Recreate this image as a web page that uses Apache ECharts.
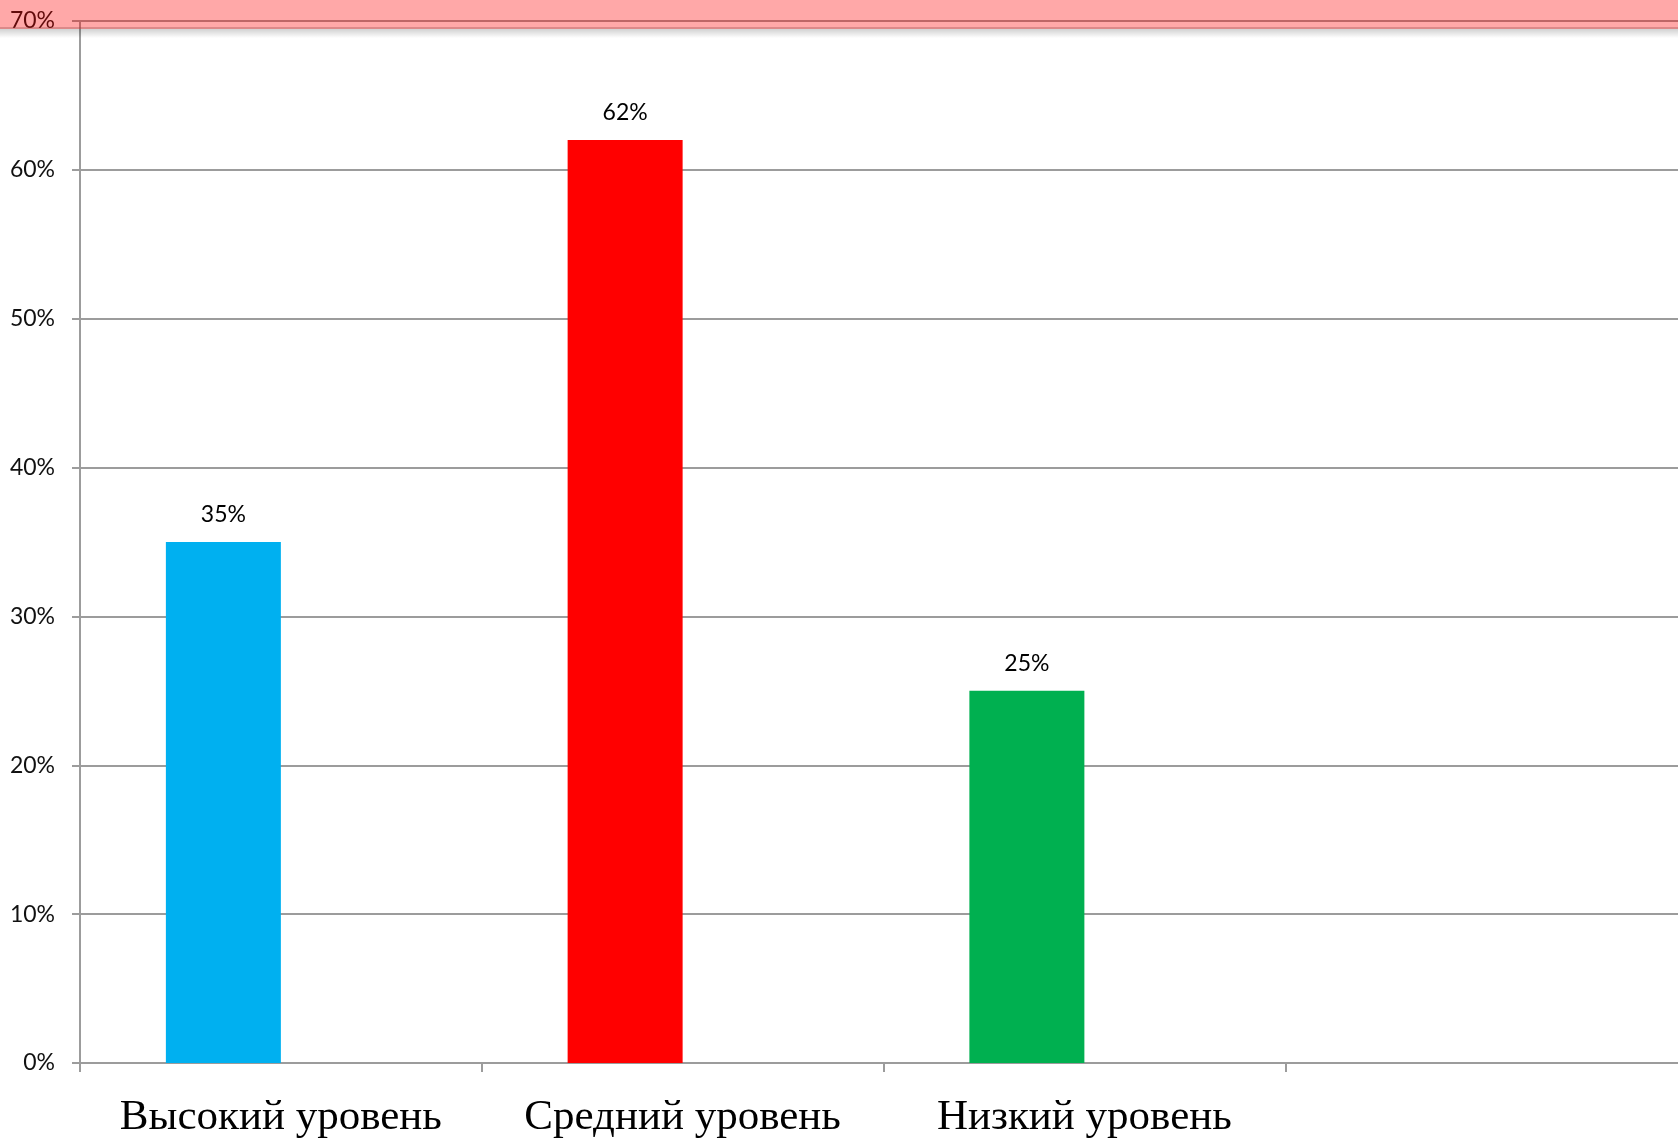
<!DOCTYPE html>
<html>
<head>
<meta charset="utf-8">
<script src="https://cdn.jsdelivr.net/npm/echarts@6/dist/echarts.min.js"></script>
<style>
html,body{margin:0;padding:0;background:#fff;}
#chart{width:1678px;height:1140px;}
</style>
</head>
<body>
<div id="chart"></div>
<script>
const categories = ['Высокий уровень', 'Средний уровень', 'Низкий уровень', ''];
const values = [35, 62, 25, null];
const emptySeries = [null, null, null, null];
const barColors = ['#00B0F0', '#FF0000', '#00B050', '#00B050'];
const yTicks = { min: 0, max: 70, interval: 10 };

const chart = echarts.init(document.getElementById('chart'));
const gray = '#9c9c9c';
chart.setOption({
  animation: false,
  backgroundColor: '#fff',
  grid: { left: 80, top: 21, width: 1607, height: 1042, containLabel: false, outerBoundsMode: 'none' },
  xAxis: {
    type: 'category',
    data: categories,
    axisLine: { lineStyle: { color: gray, width: 2 } },
    axisTick: { show: true, interval: 0, length: 9, lineStyle: { color: gray, width: 2 } },
    axisLabel: {
      interval: 0,
      margin: 33,
      fontFamily: '"Liberation Serif", "Times New Roman", serif',
      fontSize: 43,
      color: '#000'
    },
    splitLine: { show: false }
  },
  yAxis: {
    type: 'value',
    min: yTicks.min,
    max: yTicks.max,
    interval: yTicks.interval,
    axisLine: { show: true, lineStyle: { color: gray, width: 2 } },
    axisTick: { show: true, length: 8, lineStyle: { color: gray, width: 2 } },
    axisLabel: {
      formatter: '{value}%',
      margin: 25,
      fontFamily: 'Lato, "Open Sans", sans-serif',
      fontSize: 23,
      color: '#111'
    },
    splitLine: { show: true, lineStyle: { color: gray, width: 2 } }
  },
  series: [
    {
      type: 'bar',
      barWidth: 115,
      barGap: '0%',
      data: values.map((v, i) => ({ value: v, itemStyle: { color: barColors[i] } })),
      label: {
        show: true,
        position: 'top',
        distance: 16,
        formatter: '{c}%',
        fontFamily: 'Lato, "Open Sans", sans-serif',
        fontSize: 23,
        color: '#000'
      }
    },
    {
      type: 'bar',
      barWidth: 115,
      data: emptySeries
    }
  ],
  graphic: [
    {
      type: 'rect', z: 100, silent: true,
      shape: { x: 0, y: 0, width: 1678, height: 27 },
      style: { fill: 'rgba(255,0,0,0.34)' }
    },
    {
      type: 'rect', z: 100, silent: true,
      shape: { x: 0, y: 27, width: 1678, height: 2 },
      style: { fill: 'rgba(190,40,40,0.55)' }
    },
    {
      type: 'rect', z: 100, silent: true,
      shape: { x: 0, y: 29, width: 1678, height: 9 },
      style: {
        fill: new echarts.graphic.LinearGradient(0, 0, 0, 1, [
          { offset: 0, color: 'rgba(0,0,0,0.18)' },
          { offset: 1, color: 'rgba(0,0,0,0)' }
        ])
      }
    }
  ]
});
</script>
</body>
</html>
